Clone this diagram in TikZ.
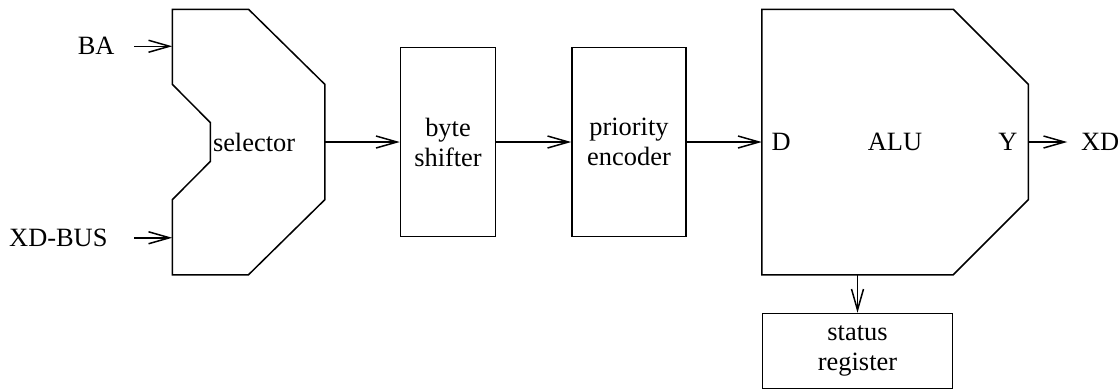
\documentclass[tikz,border=0pt]{standalone}
\usepackage{fontspec}
\setmainfont{Liberation Serif}
\usetikzlibrary{arrows.meta, calc, positioning}

\begin{document}
\begin{tikzpicture}
		[font=\fontsize{13.2pt}{15pt}\selectfont, line width=0.75pt,
		block/.style={draw, align=center, minimum height=94.5pt},
		frame/.style={inner sep=0pt, minimum height=132pt},
		sig/.style={-{Straight Barb[length=10.5pt, width=6pt]}}]
		\useasboundingbox (0,0) rectangle (559.5pt,-194pt);

		% datapath, left to right
		\node[frame, minimum width=75.5pt] (sel) at (124.25pt,-71pt) {};
		\node[block, minimum width=47.5pt, right = 37.5pt of sel] (shift) {byte\\shifter};
		\node[block, minimum width=57pt, right = 37.5pt of shift] (prio) {priority\\encoder};
		\node[frame, minimum width=132.5pt, right = 37.5pt of prio] (alu) {ALU};
		\node[block, minimum width=95pt, minimum height=37.5pt, below right = 19pt and 0pt of alu.south west] (status) {status\\register};

		% selector outline with the input notch
		\coordinate (notch) at ([xshift=19pt]sel.west);
		\draw (sel.north west) -- (sel.north) -- ([yshift=-37.5pt]sel.north east)
			-- ([yshift=37.5pt]sel.south east) -- (sel.south) -- (sel.south west)
			-- ([yshift=37.5pt]sel.south west) -- ([yshift=-9.75pt]notch)
			-- ([yshift=9.75pt]notch) -- ([yshift=-37.5pt]sel.north west) -- cycle;
		\node[right = 0pt of notch, inner sep=1pt] (selname) {selector};

		% ALU outline and ports
		\draw (alu.north west) -- ([xshift=-37.5pt]alu.north east) -- ([yshift=-37.5pt]alu.north east)
			-- ([yshift=37.5pt]alu.south east) -- ([xshift=-37.5pt]alu.south east) -- (alu.south west) -- cycle;
		\node[right = 0pt of alu.west, inner sep=4.5pt] (portd) {D};
		\node[left = 0pt of alu.east, inner sep=5pt] (porty) {Y};

		% inputs and output
		\coordinate (bain) at ([yshift=-18.5pt]sel.north west);
		\coordinate (xdbusin) at ([yshift=18.5pt]sel.south west);
		\node[left = 19pt of bain, inner xsep=9.5pt] (ba) {BA};
		\node[left = 19pt of xdbusin, inner xsep=13pt] (xdbus) {XD-BUS};
		\node[right = 19.5pt of alu.east, inner xsep=6.5pt] (xd) {XD};

		\draw[sig] (ba) -- (bain);
		\draw[sig] (xdbus) -- (xdbusin);
		\draw[sig] (sel) -- (shift);
		\draw[sig] (shift) -- (prio);
		\draw[sig] (prio) -- (alu);
		\draw[sig] (alu) -- (xd);
		\draw[sig] (alu.south -| status.north) -- (status);
\end{tikzpicture}
\end{document}
